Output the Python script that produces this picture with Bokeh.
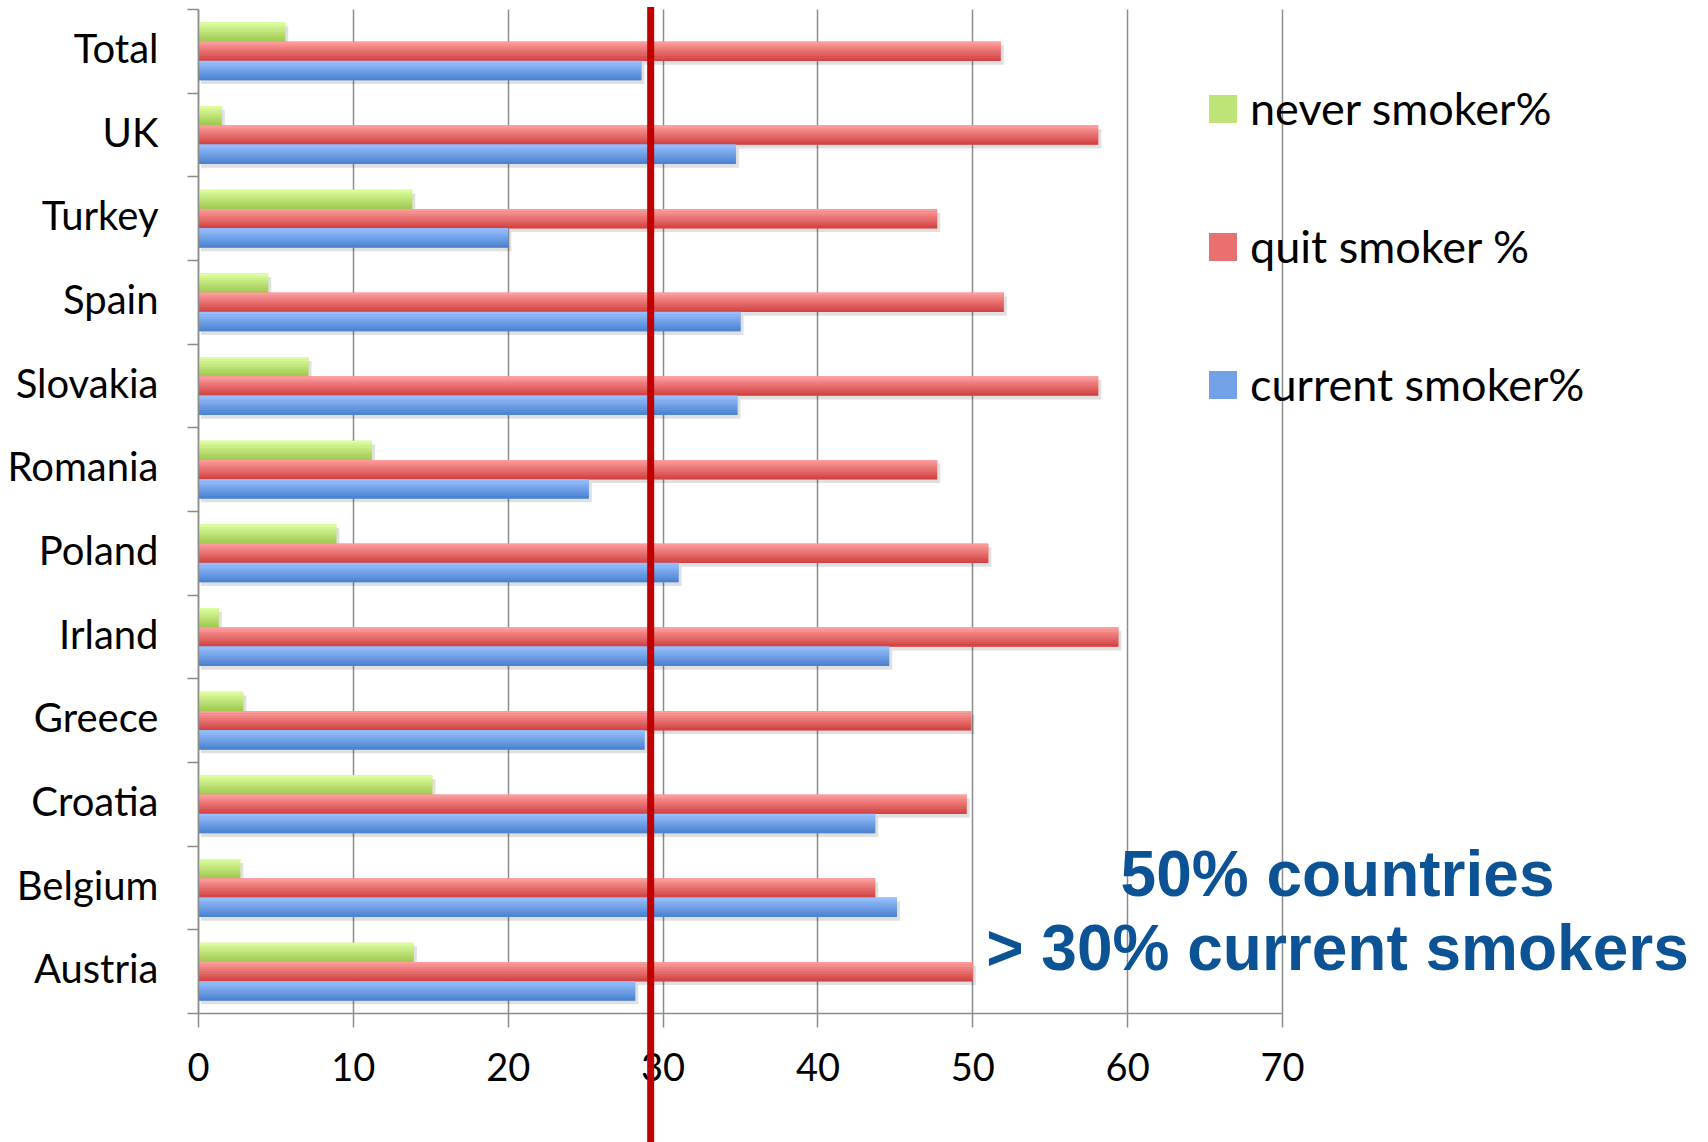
from bokeh.plotting import figure
from bokeh.models import Range1d, FixedTicker, Legend, LegendItem, Label, Arrow, ColumnDataSource
from bokeh.transform import dodge
from bokeh.embed import file_html
from bokeh.resources import INLINE

# ---------------- data ----------------
categories = ["Total", "UK", "Turkey", "Spain", "Slovakia", "Romania", "Poland",
              "Irland", "Greece", "Croatia", "Belgium", "Austria"]
never_smoker = [5.6, 1.5, 13.8, 4.5, 7.1, 11.2, 8.9, 1.3, 2.9, 15.1, 2.7, 13.9]
quit_smoker = [51.8, 58.1, 47.7, 52.0, 58.1, 47.7, 51.0, 59.4, 49.9, 49.6, 43.7, 50.0]
current_smoker = [28.6, 34.7, 20.0, 35.0, 34.8, 25.2, 31.0, 44.6, 28.8, 43.7, 45.1, 28.2]
series_names = ["never smoker%", "quit smoker %", "current smoker%"]
x_ticks = [0, 10, 20, 30, 40, 50, 60, 70]
threshold = 29.2
annotation_lines = ["50% countries", "> 30% current smokers"]

# ---------------- layout constants ----------------
W, H = 1708, 1142
LEFT, TOP = 198, 9            # pixel position of value 0 / top of category band
AXIS_Y = 1013                 # pixel row of the category axis bottom
X_MAX = 70
n = len(categories)
ypos = [n - 1 - i for i in range(n)]

px_per_x = (1282 - LEFT) / X_MAX
px_per_y = (AXIS_Y - TOP) / n
x_start = -LEFT / px_per_x
x_end = (W - LEFT) / px_per_x
y_top = (n - 0.5) + TOP / px_per_y
y_bot = -0.5 - (H - AXIS_Y) / px_per_y

src = ColumnDataSource(dict(cat=categories, y=ypos, never=never_smoker,
                            quit=quit_smoker, current=current_smoker))

p = figure(width=W, height=H, x_range=Range1d(x_start, x_end), y_range=Range1d(y_bot, y_top),
           output_backend="svg", toolbar_location=None,
           min_border_left=0, min_border_right=0, min_border_top=0, min_border_bottom=0)
p.outline_line_color = None
p.background_fill_color = "white"
p.border_fill_color = "white"

GRID = "#8C8C8C"

def hex2rgb(h):
    h = h.lstrip("#")
    return tuple(int(h[i:i + 2], 16) for i in (0, 2, 4))

def mix(c1, c2, t):
    a, b = hex2rgb(c1), hex2rgb(c2)
    return "#%02x%02x%02x" % tuple(round(a[i] + (b[i] - a[i]) * t) for i in range(3))

cols = ["never", "quit", "current"]
grads = [("#E0FFA2", "#9DC84E"), ("#FFA1A1", "#D03F3F"), ("#9CC2FF", "#4880CF")]
offsets = [0.23, 0.0, -0.23]
h = 0.23
NS = 8

# soft shadows
for col, off in zip(cols, offsets):
    p.hbar(y=dodge("y", off - 0.045), left=0.15, right=dodge(col, 0.2), height=h, source=src,
           fill_color="black", fill_alpha=0.12, line_color=None)

base_renderers = []
for col, (ctop, cbot), off in zip(cols, grads, offsets):
    r = p.hbar(y=dodge("y", off), left=0, right=col, height=h, source=src,
               fill_color=mix(ctop, cbot, 0.5), line_color=None)
    base_renderers.append(r)
    for k in range(NS):
        so = off + h / 2 - (k + 0.5) * h / NS
        p.hbar(y=dodge("y", so), left=0, right=col, height=h / NS + 0.003, source=src,
               fill_color=mix(ctop, cbot, (k + 0.5) / NS), line_color=None)

# x axis & grid
xa = p.xaxis[0]
xa.ticker = FixedTicker(ticks=x_ticks)
xa.fixed_location = -0.5
xa.bounds = (0, X_MAX)
p.xgrid.ticker = FixedTicker(ticks=x_ticks)
p.xgrid.grid_line_color = GRID
p.xgrid.grid_line_width = 1.5
p.xgrid.bounds = (0, X_MAX)
p.xgrid.cross_bounds = (-0.5, n - 0.5)
p.ygrid.grid_line_color = None
xa.axis_line_color = GRID
xa.axis_line_width = 1.5
xa.major_tick_line_color = GRID
xa.major_tick_line_width = 1.5
xa.major_tick_out = 14
xa.major_tick_in = 0
xa.minor_tick_line_color = None
xa.major_label_text_font = "Lato"
xa.major_label_text_font_size = "38px"
xa.major_label_text_color = "black"
xa.major_label_standoff = 25

# y axis (label ticks nudged slightly up to sit like the original's text)
LBL_NUDGE = 0.04
label_ticks = [y + LBL_NUDGE for y in ypos]
ya = p.yaxis[0]
ya.ticker = FixedTicker(ticks=sorted(label_ticks), minor_ticks=[i - 0.5 for i in range(n + 1)])
ya.fixed_location = 0
ya.bounds = (-0.5, n - 0.5)
ya.major_label_overrides = {t: c for t, c in zip(label_ticks, categories)}
ya.axis_line_color = GRID
ya.axis_line_width = 1.5
ya.major_tick_line_color = None
ya.major_tick_out = 0
ya.major_tick_in = 0
ya.minor_tick_line_color = GRID
ya.minor_tick_line_width = 1.5
ya.minor_tick_out = 11
ya.minor_tick_in = 0
ya.major_label_text_font = "Lato"
ya.major_label_text_font_size = "40px"
ya.major_label_text_color = "black"
ya.major_label_standoff = 29

# threshold line (extends below the axis to the bottom edge)
arrow = Arrow(end=None, x_start=threshold, y_start=n - 0.5 + 0.03,
              x_end=threshold, y_end=y_bot,
              line_color="#C00000", line_width=7)
p.add_layout(arrow)

# legend
items = [LegendItem(label=nm, renderers=[r]) for nm, r in zip(series_names, base_renderers)]
legend = Legend(items=items, location=(1205, H - 411), orientation="vertical",
                glyph_width=35, glyph_height=35, label_standoff=10, spacing=84,
                padding=0, margin=0, border_line_color=None, background_fill_alpha=0,
                label_text_font="Lato", label_text_font_size="45px", label_height=50,
                label_text_color="black")
p.add_layout(legend)

# annotation text
cx = (1337 - LEFT) / px_per_x
for txt, base in zip(annotation_lines, [873, 947]):
    p.add_layout(Label(x=cx, y=(n - 0.5) - (base - TOP) / px_per_y, text=txt,
                       text_align="center", text_baseline="alphabetic",
                       text_font="Liberation Sans", text_font_style="bold",
                       text_font_size="64px", text_color="#0B5394"))

open("out.html", "w").write(file_html(p, INLINE))
